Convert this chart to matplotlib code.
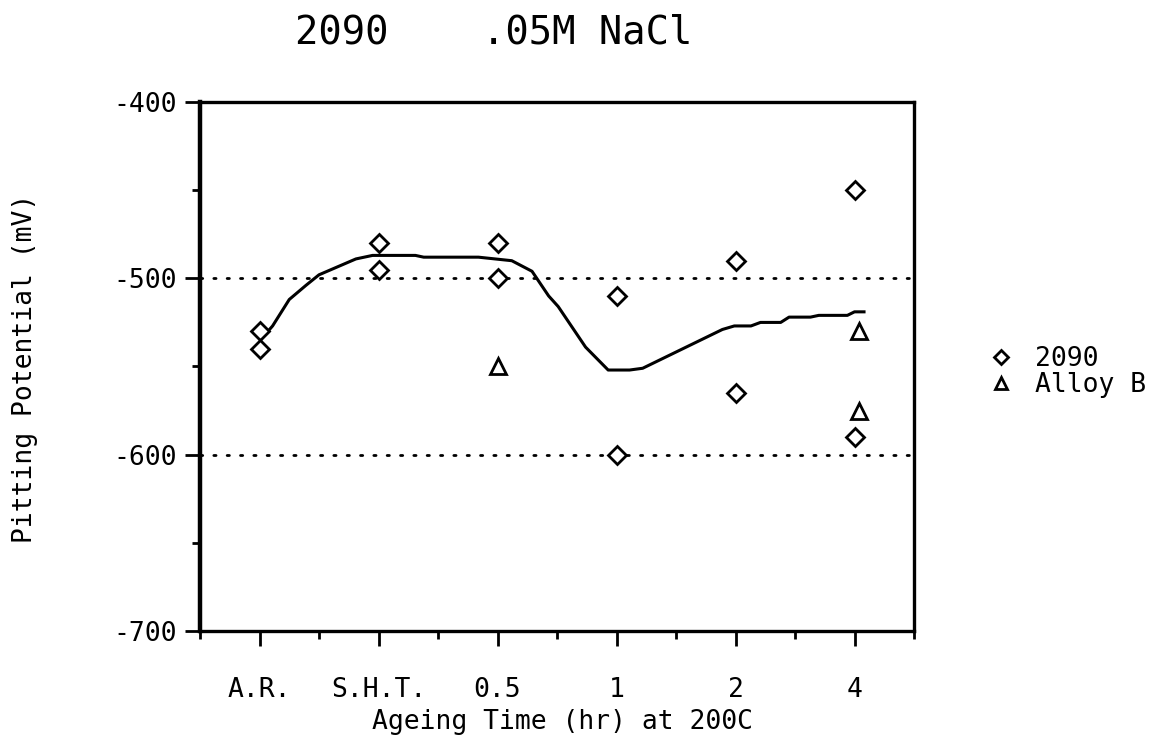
"""Pitting potential vs ageing time — 2090 in .05M NaCl"""
import matplotlib
matplotlib.use("Agg")
import matplotlib.pyplot as plt

FONT = "DejaVu Sans Mono"
plt.rcParams["font.family"] = [FONT, "DejaVu Sans"]
plt.rcParams["axes.unicode_minus"] = False

# ── data ─────────────────────────────────────────────────────────────────────
categories = ["A.R.", "S.H.T.", "0.5", "1", "2", "4"]

# 2090 (diamonds): category index, potential (mV)
alloy2090_x = [0, 0, 1, 1, 2, 2, 3, 3, 4, 4, 5, 5]
alloy2090_y = [-530, -540, -480, -495, -480, -500, -510, -600, -490, -565, -450, -590]

# Alloy B (triangles)
alloyB_x = [2, 5.04, 5.04]
alloyB_y = [-550, -530, -575]

# trend curve
curve_x = [0.02, 0.11, 0.25, 0.39, 0.50, 0.81, 0.95, 1.31, 1.38, 1.84, 2.12,
           2.29, 2.43, 2.51, 2.74, 2.93, 3.11, 3.22, 3.89, 3.99, 4.13, 4.21,
           4.38, 4.45, 4.63, 4.70, 4.94, 5.00, 5.08]
curve_y = [-534, -527, -512, -504, -498, -489, -487, -487, -488, -488, -490,
           -496, -510, -516, -539, -552, -552, -551, -529, -527, -527, -525,
           -525, -522, -522, -521, -521, -519, -519]

ref_levels = [-500, -600]

# ── figure ───────────────────────────────────────────────────────────────────
fig = plt.figure(figsize=(11.67, 7.44), dpi=100, facecolor="white")
ax = fig.add_axes([200 / 1167, 1 - 631 / 744, 714 / 1167, 529 / 744])

for lvl in ref_levels:
    ax.axhline(lvl, color="black", linewidth=2.0, linestyle=(0, (0.8, 4.0)),
               dash_capstyle="round", zorder=1)

ax.plot(curve_x, curve_y, color="black", linewidth=2.2, zorder=2)

ax.plot(alloy2090_x, alloy2090_y, linestyle="none", marker="D", markersize=9,
        markerfacecolor="white", markeredgecolor="black", markeredgewidth=2.0,
        label="2090", zorder=3)
ax.plot(alloyB_x, alloyB_y, linestyle="none", marker="^", markersize=11,
        markerfacecolor="white", markeredgecolor="black", markeredgewidth=2.0,
        label="Alloy B", zorder=3)

ax.set_xlim(-0.5, 5.5)
ax.set_ylim(-700, -400)

ax.set_xticks(range(len(categories)))
ax.set_xticklabels(categories)
ax.set_xticks([i - 0.5 for i in range(len(categories) + 1)], minor=True)
ax.set_yticks([-700, -600, -500, -400])
ax.set_yticks([-650, -550, -450], minor=True)

ax.tick_params(axis="both", which="major", direction="out", width=2.0,
               length=11, labelsize=19)
ax.tick_params(axis="both", which="minor", direction="out", width=2.0,
               length=5.5)
ax.tick_params(axis="x", which="major", pad=22)
ax.tick_params(axis="y", which="major", pad=6)

for name, sp in ax.spines.items():
    sp.set_linewidth(2.4)
ax.spines["left"].set_linewidth(3.2)

fig.text(494 / 1167, 1 - 32 / 744, "2090    .05M NaCl", ha="center",
         va="center", fontsize=28)
fig.text(563 / 1167, 1 - 722 / 744, "Ageing Time (hr) at 200C", ha="center",
         va="center", fontsize=19)
fig.text(25 / 1167, 1 - 368 / 744, "Pitting Potential (mV)", ha="center",
         va="center", rotation=90, fontsize=19)

leg = ax.legend(loc="center left", bbox_to_anchor=(1.074, 0.49), frameon=False,
                fontsize=19, handlelength=0.8, handletextpad=0.9,
                labelspacing=0.0, markerscale=0.8)

fig.savefig("out.png", dpi=100, facecolor="white")
